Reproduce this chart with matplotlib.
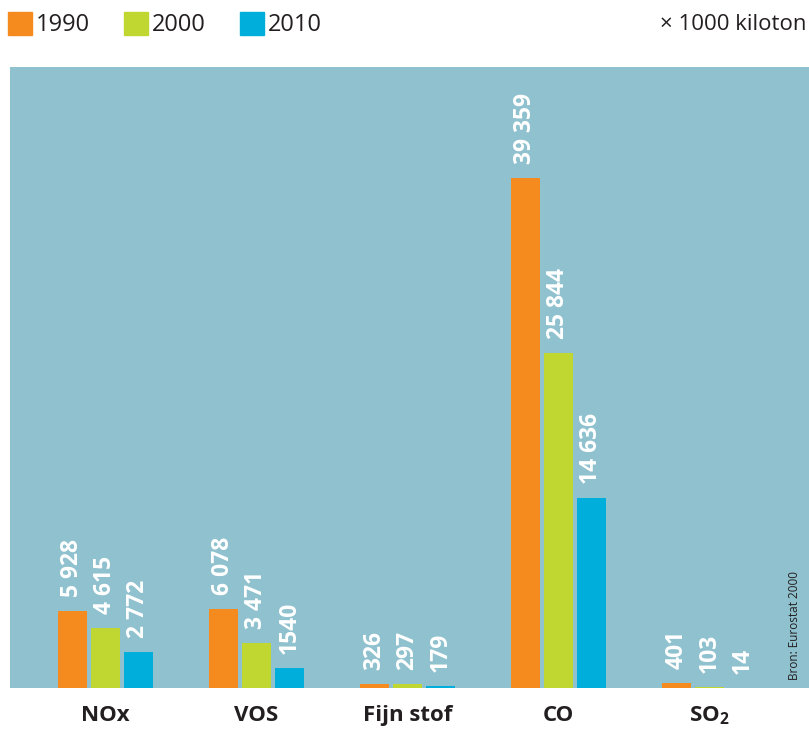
import numpy as np
import matplotlib.pyplot as plt

# Data (x 1000 kiloton)
Categories = ['NOx', 'VOS', 'Fijn stof', 'CO', r'SO$_\mathbf{2}$']
Years = ['1990', '2000', '2010']
Values1990 = [5928, 6078, 326, 39359, 401]
Values2000 = [4615, 3471, 297, 25844, 103]
Values2010 = [2772, 1540, 179, 14636, 14]
Labels1990 = ['5 928', '6 078', '326', '39 359', '401']
Labels2000 = ['4 615', '3 471', '297', '25 844', '103']
Labels2010 = ['2 772', '1540', '179', '14 636', '14']

# Style Variables
Colors = ['#F58B1F', '#BFD730', '#00AEDB']
PanelColor = '#8FC1CE'
TextColor = '#231F20'

plt.rcParams['font.family'] = ['Open Sans', 'DejaVu Sans']
plt.rcParams['mathtext.fontset'] = 'custom'
plt.rcParams['mathtext.bf'] = 'Open Sans:bold'
plt.rcParams['mathtext.rm'] = 'Open Sans'


fig = plt.figure(figsize=(8.09, 7.31), dpi=100)
ax = fig.add_axes([10/809, 43/731, 799/809, 621/731])
ax.set_facecolor(PanelColor)

x = np.arange(len(Categories))
width = 0.192
step = 0.2185

series = zip([Values1990, Values2000, Values2010],
             [Labels1990, Labels2000, Labels2010], Colors)
for i, (vals, labs, col) in enumerate(series):
    pos = x + (i - 1) * step
    ax.bar(pos, vals, width=width, color=col, zorder=2)
    for p, v, lab in zip(pos, vals, labs):
        ax.annotate(lab, (p, v), xytext=(0, 10), textcoords='offset points',
                    rotation=90, ha='center', va='bottom', color='white',
                    fontsize=16.5, fontweight='bold')

ax.set_xlim(-0.632, 4.659)
ax.set_ylim(0, 47925)
ax.set_yticks([])
ax.set_xticks(x)
ax.set_xticklabels(Categories, fontsize=16, fontweight='bold', color=TextColor)
ax.tick_params(axis='x', length=0, pad=12)
for s in ax.spines.values():
    s.set_visible(False)

# Legend
lx = [8, 124, 240]
for px, col, yr in zip(lx, Colors, Years):
    fig.patches.append(plt.Rectangle((px/809, 1 - 35/731), 24/809, 23/731,
                                     transform=fig.transFigure, color=col))
    fig.text((px + 28)/809, 1 - 25/731, yr, fontsize=17, color=TextColor,
             va='center', ha='left')

fig.text(806/809, 1 - 25/731, '× 1000 kiloton', fontsize=16, color=TextColor,
         va='center', ha='right')

fig.text(795/809, 1 - 625/731, 'Bron: Eurostat 2000', fontsize=8.5,
         color=TextColor, rotation=90, va='center', ha='center')

plt.savefig('out.png', dpi=100)
